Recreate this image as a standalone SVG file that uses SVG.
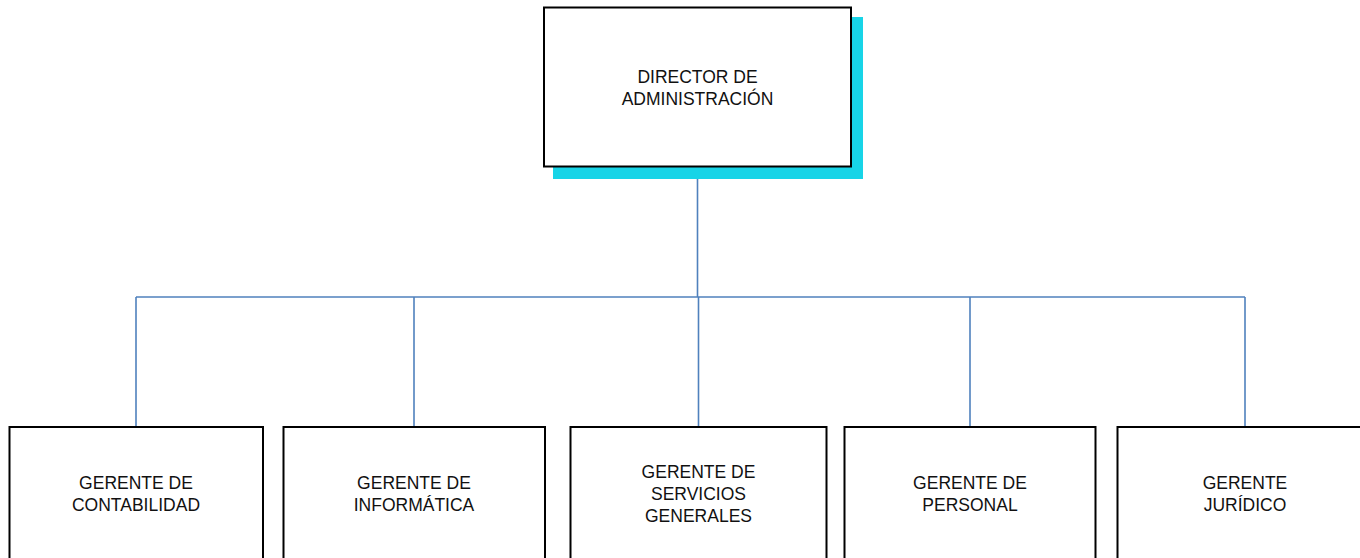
<svg xmlns="http://www.w3.org/2000/svg" width="1360" height="558" viewBox="0 0 1360 558">
  <style>
    .box { fill: #ffffff; stroke: #000000; stroke-width: 2; }
    .shadow { fill: #17D4E7; stroke: none; }
    .lbl { font-family: "Liberation Sans", Arial, sans-serif; font-size: 17.5px; fill: #111111; text-anchor: middle; }
    .conn { fill: none; stroke: #4F81BD; stroke-width: 1.6; }
  </style>
  <rect width="1360" height="558" fill="#ffffff"/>
  <g id="connectors">
    <path class="conn" d="M697.5 167 V297"/>
    <path class="conn" d="M136 297 H1245"/>
    <path class="conn" d="M136 297 V427"/>
    <path class="conn" d="M414 297 V427"/>
    <path class="conn" d="M698.5 297 V427"/>
    <path class="conn" d="M970 297 V427"/>
    <path class="conn" d="M1245 297 V427"/>
  </g>
  <g id="director">
    <rect class="shadow" x="553" y="17" width="310" height="162"/>
    <rect class="box" x="544" y="7.5" width="307" height="159"/>
    <text class="lbl" x="697.5" y="83">DIRECTOR DE</text>
    <text class="lbl" x="697.5" y="105">ADMINISTRACIÓN</text>
  </g>
  <g id="contabilidad">
    <rect class="box" x="9.5" y="427" width="253.5" height="150"/>
    <text class="lbl" x="136" y="489">GERENTE DE</text>
    <text class="lbl" x="136" y="511">CONTABILIDAD</text>
  </g>
  <g id="informatica">
    <rect class="box" x="283.5" y="427" width="261.5" height="150"/>
    <text class="lbl" x="414" y="489">GERENTE DE</text>
    <text class="lbl" x="414" y="511">INFORMÁTICA</text>
  </g>
  <g id="servicios">
    <rect class="box" x="570.5" y="427" width="256" height="150"/>
    <text class="lbl" x="698.5" y="478">GERENTE DE</text>
    <text class="lbl" x="698.5" y="500">SERVICIOS</text>
    <text class="lbl" x="698.5" y="522">GENERALES</text>
  </g>
  <g id="personal">
    <rect class="box" x="844.5" y="427" width="251" height="150"/>
    <text class="lbl" x="970" y="489">GERENTE DE</text>
    <text class="lbl" x="970" y="511">PERSONAL</text>
  </g>
  <g id="juridico">
    <rect class="box" x="1117.5" y="427" width="260" height="150"/>
    <text class="lbl" x="1245" y="489">GERENTE</text>
    <text class="lbl" x="1245" y="511">JURÍDICO</text>
  </g>
</svg>
